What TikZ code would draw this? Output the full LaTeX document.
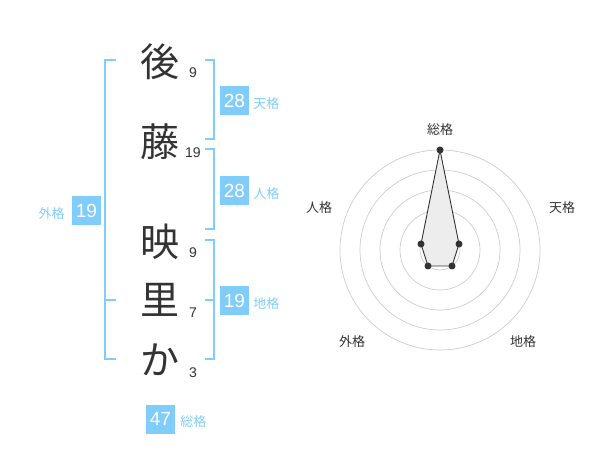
\documentclass[tikz,border=0pt]{standalone}
\usepackage{fontspec}
\setmainfont{Liberation Sans}
\newfontfamily\jp{Noto Sans CJK JP}
\usepackage{tikz}
\usepackage{xcolor}
\usetikzlibrary{
    calc,
    positioning
}
\definecolor{kakublue}{HTML}{80CCFA}
\definecolor{inkgray}{HTML}{333333}
\definecolor{ringgray}{HTML}{CCCCCC}
\tikzset{kanji/.style={inner sep=0pt, text=inkgray, font=\jp\fontsize{39}{39}\selectfont}}
\tikzset{strokes/.style={inner sep=0pt, text=inkgray, font=\fontsize{14}{14}\selectfont}}
\tikzset{kakubox/.style={inner sep=0pt, minimum size=29pt, fill=kakublue, text=white, font=\fontsize{19}{19}\selectfont}}
\tikzset{kakulabel/.style={inner sep=0pt, text=kakublue, font=\jp\fontsize{13}{13}\selectfont}}
\tikzset{radarlabel/.style={inner sep=0pt, text=inkgray, font=\jp\fontsize{13}{13}\selectfont}}
\tikzset{bracket/.style={draw=kakublue, line width=2pt}}
\tikzset{spot/.style={inner sep=0pt, circle, minimum size=7pt, fill=inkgray}}

\begin{document}
\begin{tikzpicture}[x=1pt, y=-1pt]
                        \useasboundingbox (0, 0) rectangle (600, 470);

                        % name and stroke counts
                        \node[kanji] (k1) at (160, 62) {後};
                        \node[kanji] (k2) at (160, 142) {藤};
                        \node[kanji] (k3) at (160, 242) {映};
                        \node[kanji] (k4) at (160, 300) {里};
                        \node[kanji] (k5) at (160, 360) {か};

                        \node[strokes] (s1) at (193, 73) {9};
                        \node[strokes] (s2) at (193, 153) {19};
                        \node[strokes] (s3) at (193, 253) {9};
                        \node[strokes] (s4) at (193, 313) {7};
                        \node[strokes] (s5) at (193, 373) {3};

                        % brackets
                        \draw[bracket] (116, 60) -- (105, 60) -- (105, 359) -- (116, 359);
                        \draw[bracket] (105, 300) -- (116, 300);
                        \draw[bracket] (205, 60) -- (214, 60) -- (214, 139) -- (205, 139);
                        \draw[bracket] (205, 149) -- (214, 149) -- (214, 229) -- (205, 229);
                        \draw[bracket] (205, 240) -- (214, 240) -- (214, 359) -- (205, 359);
                        \draw[bracket] (205, 300) -- (214, 300);

                        % boxes
                        \node[kakubox] (ten) at (234.5, 100.5) {28};
                        \node[kakulabel, right=4pt of ten.east, yshift=-3pt, anchor=west] (tenl) {天格};
                        \node[kakubox] (jin) at (234.5, 190.5) {28};
                        \node[kakulabel, right=4pt of jin.east, yshift=-3pt, anchor=west] (jinl) {人格};
                        \node[kakubox] (chi) at (234.5, 300.5) {19};
                        \node[kakulabel, right=4pt of chi.east, yshift=-3pt, anchor=west] (chil) {地格};
                        \node[kakubox] (gai) at (86.5, 210.5) {19};
                        \node[kakulabel, left=7pt of gai.west, yshift=-3pt, anchor=east] (gail) {外格};
                        \node[kakubox] (sou) at (160.5, 419) {47};
                        \node[kakulabel, right=5pt of sou.east, yshift=-3pt, anchor=west] (soul) {総格};

                        % radar chart
                        \begin{scope}[shift={(440, 250)}]
                            \foreach \r in {20, 40, 60, 80, 100}
                                \draw[ringgray, line width=0.7pt] (0, 0) circle[radius=\r];
                            \fill[ringgray] (0, 0) circle[radius=3.5];

                            \coordinate (psou) at (0, -100);
                            \coordinate (pten) at (19, -6);
                            \coordinate (pchi) at (12, 16);
                            \coordinate (pgai) at (-12, 16);
                            \coordinate (pjin) at (-19, -6);

                            \draw[inkgray, fill=black!7, line width=0.9pt]
                            (psou) -- (pten) -- (pchi) -- (pgai) -- (pjin) -- cycle;

                            \node[spot] at (psou) {};
                            \node[spot] at (pten) {};
                            \node[spot] at (pchi) {};
                            \node[spot] at (pgai) {};
                            \node[spot] at (pjin) {};

                            \node[radarlabel] (rsou) at (0, -120) {総格};
                            \node[radarlabel] (rten) at (122, -42) {天格};
                            \node[radarlabel] (rjin) at (-121, -42) {人格};
                            \node[radarlabel] (rchi) at (83, 92) {地格};
                            \node[radarlabel] (rgai) at (-88, 92) {外格};
                        \end{scope}
                    \end{tikzpicture}
\end{document}
